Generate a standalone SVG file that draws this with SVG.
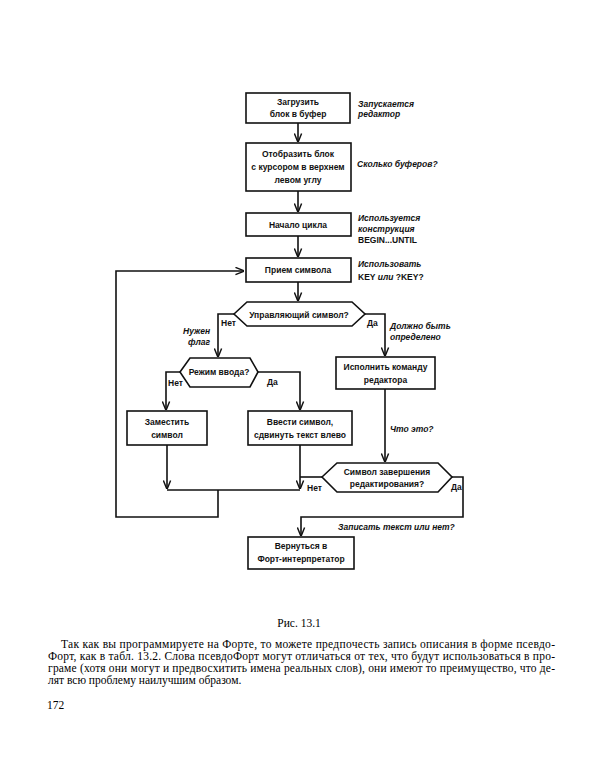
<svg xmlns="http://www.w3.org/2000/svg" width="600" height="766" viewBox="0 0 600 766">
<style>
.box{fill:#fff;stroke:#111;stroke-width:1.6}
.ln{fill:none;stroke:#111;stroke-width:1.6}
.t{font-family:"Liberation Sans","DejaVu Sans",sans-serif;font-size:8.5px;font-weight:bold;fill:#111;text-anchor:middle}
.a{font-family:"Liberation Sans","DejaVu Sans",sans-serif;font-size:8.5px;font-weight:bold;font-style:italic;fill:#111}
.u{font-family:"Liberation Sans","DejaVu Sans",sans-serif;font-size:8.5px;font-weight:bold;fill:#111}
.p{font-family:"Liberation Serif","DejaVu Serif",serif;font-size:11.5px;fill:#000}
</style>
<defs>
<marker id="arr" markerUnits="userSpaceOnUse" viewBox="0 0 10 10" refX="9.5" refY="5" markerWidth="9" markerHeight="9" orient="auto">
<path d="M0,1 L10,5 L0,9" fill="none" stroke="#111" stroke-width="1.6"/>
</marker>
</defs>
<rect width="600" height="766" fill="#fff"/>

<g id="connectors">
<path class="ln" d="M298,123 V142" marker-end="url(#arr)"/>
<path class="ln" d="M298,191 V212" marker-end="url(#arr)"/>
<path class="ln" d="M298,236 V257" marker-end="url(#arr)"/>
<path class="ln" d="M298,282 V301" marker-end="url(#arr)"/>
<path class="ln" d="M234,314 H218 V357" marker-end="url(#arr)"/>
<path class="ln" d="M365,314 H385 V356" marker-end="url(#arr)"/>
<path class="ln" d="M180,372 H166 V410" marker-end="url(#arr)"/>
<path class="ln" d="M258,372 H300 V410" marker-end="url(#arr)"/>
<path class="ln" d="M385,389 V462" marker-end="url(#arr)"/>
<path class="ln" d="M167,445 V489" marker-end="url(#arr)"/>
<path class="ln" d="M300,445 V489" marker-end="url(#arr)"/>
<path class="ln" d="M322,477 H300"/>
<path class="ln" d="M167,490 H300"/>
<path class="ln" d="M218,490 V517 H116 V271 H244" marker-end="url(#arr)"/>
<path class="ln" d="M452,477 H463 V517 H301 V536" marker-end="url(#arr)"/>
</g>

<g id="load">
<rect class="box" x="246" y="93" width="104" height="30"/>
<text class="t" x="298" y="105">Загрузить</text>
<text class="t" x="298" y="117">блок в буфер</text>
</g>
<g id="note-load">
<text class="a" x="358" y="107">Запускается</text>
<text class="a" x="358" y="117">редактор</text>
</g>

<g id="display">
<rect class="box" x="246" y="143" width="105" height="48"/>
<text class="t" x="298" y="157">Отобразить блок</text>
<text class="t" x="298" y="170">с курсором в верхнем</text>
<text class="t" x="298" y="183">левом углу</text>
</g>
<g id="note-display">
<text class="a" x="357" y="167">Сколько буферов?</text>
</g>

<g id="loopstart">
<rect class="box" x="246" y="213" width="105" height="23"/>
<text class="t" x="298" y="228">Начало цикла</text>
</g>
<g id="note-loop">
<text class="a" x="358" y="221">Используется</text>
<text class="a" x="358" y="232">конструкция</text>
<text class="u" x="358" y="243">BEGIN...UNTIL</text>
</g>

<g id="receive">
<rect class="box" x="246" y="258" width="105" height="24"/>
<text class="t" x="298" y="273">Прием символа</text>
</g>
<g id="note-receive">
<text class="a" x="358" y="267">Использовать</text>
<text class="u" x="358" y="280">KEY <tspan font-style="italic">или</tspan> ?KEY?</text>
</g>

<g id="control">
<polygon class="box" points="234,314 247,302 352,302 365,314 352,326 247,326"/>
<text class="t" x="299" y="318">Управляющий символ?</text>
<text class="u" x="221" y="326">Нет</text>
<text class="u" x="367" y="326">Да</text>
</g>
<g id="note-flag">
<text class="a" x="183" y="334">Нужен</text>
<text class="a" x="188" y="345">флаг</text>
</g>
<g id="note-defined">
<text class="a" x="390" y="329">Должно быть</text>
<text class="a" x="390" y="340">определено</text>
</g>

<g id="mode">
<polygon class="box" points="180,372 190,358 250,358 258,372 250,387 190,387"/>
<text class="t" x="219" y="375">Режим ввода?</text>
<text class="u" x="168" y="386">Нет</text>
<text class="u" x="267" y="385">Да</text>
</g>

<g id="execute">
<rect class="box" x="336" y="357" width="99" height="32"/>
<text class="t" x="385.5" y="370">Исполнить команду</text>
<text class="t" x="385.5" y="383">редактора</text>
</g>

<g id="replace">
<rect class="box" x="127" y="411" width="80" height="34"/>
<text class="t" x="167" y="425">Заместить</text>
<text class="t" x="167" y="438">символ</text>
</g>

<g id="insert">
<rect class="box" x="248" y="411" width="104" height="34"/>
<text class="t" x="300" y="425">Ввести символ,</text>
<text class="t" x="300" y="438">сдвинуть текст влево</text>
</g>

<g id="note-what">
<text class="a" x="390" y="432">Что это?</text>
</g>

<g id="endedit">
<polygon class="box" points="322,477 337,463 438,463 452,477 438,492 337,492"/>
<text class="t" x="387" y="475">Символ завершения</text>
<text class="t" x="387" y="487">редактирования?</text>
<text class="u" x="307" y="491">Нет</text>
<text class="u" x="451" y="490">Да</text>
</g>
<g id="note-save">
<text class="a" x="338" y="530">Записать текст или нет?</text>
</g>

<g id="return">
<rect class="box" x="248" y="537" width="106" height="32"/>
<text class="t" x="301" y="549">Вернуться в</text>
<text class="t" x="301" y="562">Форт-интерпретатор</text>
</g>

<text class="p" x="299" y="627" text-anchor="middle" font-size="9.5">Рис. 13.1</text>
<text class="p" x="61" y="648" textLength="494" lengthAdjust="spacing">Так как вы программируете на Форте, то можете предпочесть запись описания в форме псевдо-</text>
<text class="p" x="48" y="660" textLength="507" lengthAdjust="spacing">Форт, как в табл. 13.2. Слова псевдоФорт могут отличаться от тех, что будут использоваться в про-</text>
<text class="p" x="48" y="672" textLength="507" lengthAdjust="spacing">граме (хотя они могут и предвосхитить имена реальных слов), они имеют то преимущество, что де-</text>
<text class="p" x="48" y="684">лят всю проблему наилучшим образом.</text>
<text class="p" x="47" y="709" font-size="11">172</text>
</svg>
